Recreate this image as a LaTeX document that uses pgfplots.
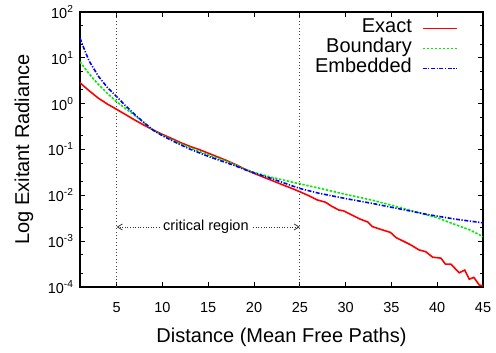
\documentclass[border=0pt]{standalone}
\usepackage{fontspec}
\setmainfont{Liberation Sans}
\usepackage{pgfplots}
\pgfplotsset{compat=1.18}
\usetikzlibrary{arrows.meta}
\definecolor{gpred}{RGB}{255,0,0}
\definecolor{gpgreen}{RGB}{0,235,0}
\definecolor{gpblue}{RGB}{0,0,255}
\begin{document}
\begin{tikzpicture}
\useasboundingbox (-40pt,-32.5pt) rectangle (208pt,143.5pt);
\begin{axis}[
 at={(0,0)}, anchor=south west,
 scale only axis, width=201.5pt, height=137.5pt,
 ymode=log, log basis y=10,
 xmin=1, xmax=45, ymin=1e-4, ymax=1e2,
 xtick={5,10,...,45},
 ytick={1e-4,1e-3,1e-2,1e-1,1,10,100},
 yticklabels={10\textsuperscript{-4},10\textsuperscript{-3},10\textsuperscript{-2},10\textsuperscript{-1},10\textsuperscript{0},10\textsuperscript{1},10\textsuperscript{2}},
 minor ytick={2e-4,5e-4,2e-3,5e-3,2e-2,5e-2,2e-1,5e-1,2,5,20,50},
 tick align=inside, major tick length=2.5pt, minor tick length=1.5pt,
 tick style={black, line width=0.5pt},
 axis line style={line width=0.8pt},
 ticklabel style={font=\fontsize{7.25}{8.7}\selectfont},
 /pgf/number format/assume math mode=true,
 xticklabel style={yshift=-4pt},
 yticklabel style={xshift=0.5pt},
 xlabel={Distance (Mean Free Paths)}, ylabel={Log Exitant Radiance},
 label style={font=\fontsize{10}{12}\selectfont},
 xlabel style={at={([yshift=-25pt]axis description cs:0.5,0)}, anchor=center},
 ylabel style={at={([xshift=-28pt]axis description cs:0,0.5)}, anchor=center},
 legend plot pos=right,
 legend cell align=right,
 legend style={at={([xshift=-12.5pt,yshift=-3pt]rel axis cs:1,1)}, anchor=north east,
   draw=none, fill=none, inner sep=0pt, column sep=5pt, row sep=0pt,
   font=\fontsize{10}{12}\selectfont,
   nodes={inner sep=0pt, text height=7.2pt, text depth=2.8pt}},
]
\addplot[color=gpred, line width=0.8pt] coordinates {
(1,2.86) (2,1.91) (3,1.32) (4,0.977) (5,0.752) (6,0.575) (7,0.437) (8,0.339) (9,0.266) (10,0.214)
(11,0.174) (12,0.141) (13,0.117) (14,0.100) (15,0.0832) (16,0.0692) (17,0.0575) (18,0.0468) (19,0.0372)
(20,0.0302) (21,0.0251) (22,0.0209) (23,0.0174) (24,0.0145) (25,0.0120) (26,0.00977) (26.9,0.00794)
(27.8,0.00708) (28.5,0.00575) (29.25,0.00479) (29.8,0.00457) (30.9,0.00355) (31.6,0.00302) (32.4,0.00263)
(32.9,0.00209) (33.8,0.00182) (34.9,0.00155) (35.5,0.00120) (36.3,0.00100) (37.1,0.000832) (38.0,0.000646)
(38.75,0.000589) (39.5,0.000447) (40.4,0.000427) (40.9,0.000316) (41.5,0.000316) (42.4,0.000204)
(43.0,0.000234) (43.5,0.000148) (44.0,0.000162) (44.6,0.000110) (45,0.000107)
};
\addlegendentry{Exact}
\addplot[color=gpgreen, line width=0.8pt, dash pattern=on 1.2pt off 0.8pt] coordinates {
(1,8.22) (1.5,6.03) (2,4.47) (3,2.63) (4,1.66) (5,1.10) (6,0.776) (7,0.550) (8,0.380) (9,0.263)
(10,0.204) (11,0.162) (12,0.132) (13,0.110) (14,0.0912) (15,0.0759) (16,0.0646) (17,0.0550) (18,0.0457)
(19,0.0372) (20,0.0316) (22,0.0245) (25,0.0178) (27,0.0145) (30,0.0105) (33,0.00776) (36,0.00537)
(38,0.00417) (40,0.00324) (42,0.00229) (43.5,0.00178) (45,0.00126)
};
\addlegendentry{Boundary}
\addplot[color=gpblue, line width=0.8pt, dash pattern=on 2pt off 0.8pt on 0.6pt off 0.8pt] coordinates {
(1,26.9) (1.5,14.8) (2,8.51) (3,3.98) (4,2.24) (5,1.42) (6,0.891) (7,0.575) (8,0.385) (9,0.263)
(10,0.200) (11,0.158) (12,0.126) (13,0.102) (14,0.0851) (15,0.0708) (16,0.0603) (17,0.0513) (18,0.0437)
(19,0.0363) (20,0.0309) (22,0.0229) (25,0.0141) (27,0.0112) (30,0.00851) (33,0.00661) (36,0.00501)
(39,0.00380) (42,0.00302) (45,0.00251)
};
\addlegendentry{Embedded}
\addplot[color=black!75, line width=0.5pt, dash pattern=on 0.5pt off 1.2pt, forget plot] coordinates {(5,1e-4) (5,1e2)};
\addplot[color=black!75, line width=0.5pt, dash pattern=on 0.5pt off 1.2pt, forget plot] coordinates {(25,1e-4) (25,1e2)};
\draw[black!80, line width=0.4pt, dash pattern=on 0.5pt off 0.8pt, -{Straight Barb[length=2.5pt,width=3pt]}] (axis cs:9.7,2.04e-3) -- (axis cs:5,2.04e-3);
\draw[black!80, line width=0.4pt, dash pattern=on 0.5pt off 0.8pt, -{Straight Barb[length=2.5pt,width=3pt]}] (axis cs:19.9,2.04e-3) -- (axis cs:25,2.04e-3);
\node[font=\fontsize{7.25}{8.7}\selectfont, inner sep=0pt] at (axis cs:14.75,2.04e-3) {critical region};
\end{axis}
\end{tikzpicture}
\end{document}
